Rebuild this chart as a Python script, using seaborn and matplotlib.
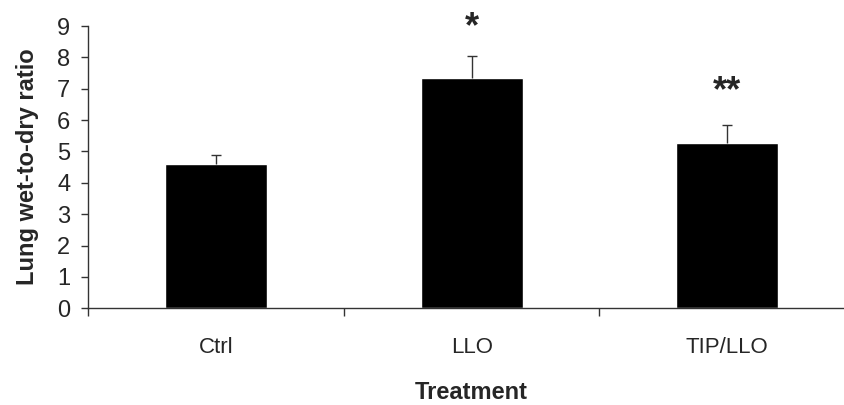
import numpy as np
import pandas as pd
import matplotlib
matplotlib.use('Agg')
import matplotlib.pyplot as plt
import seaborn as sns

# -----------------------

treatments = ['Ctrl', 'LLO', 'TIP/LLO']
ratio_mean = [4.60, 7.35, 5.27]
ratio_err = [0.28, 0.69, 0.58]
marks = ['', '*', '**']
mark_y = [0.0, 8.65, 6.6]

yticks = list(range(0, 10))

# -----------------------

sns.set_style('white')
plt.rcParams['font.family'] = ['Liberation Sans', 'DejaVu Sans']

df = pd.DataFrame({'treatment': treatments, 'ratio': ratio_mean})

fig = plt.figure(figsize=(8.45, 4.05), dpi=100)
ax = fig.add_axes([0.1047, 0.2388, 0.9071, 0.697])

sns.barplot(data=df, x='treatment', y='ratio', color='black', width=0.4,
	errorbar=None, ax=ax, saturation=1)

x = np.arange(len(treatments))
eb = ax.errorbar(x, ratio_mean, yerr=[np.zeros(len(x)), ratio_err], fmt='none',
	ecolor='#333333', elinewidth=1.0, capsize=3.5, capthick=1.0)
# only the upper cap is wanted
eb.lines[1][0].set_visible(False)

for xi, m, my in zip(x, marks, mark_y):
	if m:
		ax.text(xi, my, m, ha='center', va='baseline', fontsize=26,
			fontweight='bold', clip_on=False)

ax.set_xlim(-0.5, 2.5)
ax.set_ylim(0, 9)
ax.set_yticks(yticks)
ax.set_xticks(x)
ax.set_xticks([-0.5, 0.5, 1.5, 2.5], minor=True)

ax.tick_params(axis='x', which='major', length=0, pad=21, labelsize=16)
ax.tick_params(axis='x', which='minor', length=6, direction='out',
	width=1, color='#333333', bottom=True)
ax.tick_params(axis='y', which='major', length=5, direction='out', width=1,
	color='#333333', pad=8, labelsize=17, left=True)

ax.set_xlabel('Treatment', fontsize=17, fontweight='bold', labelpad=16)
ax.set_ylabel('Lung wet-to-dry ratio', fontsize=17, fontweight='bold',
	labelpad=13)

sns.despine(ax=ax, top=True, right=True)
for sp in ['left', 'bottom']:
	ax.spines[sp].set_color('#333333')
	ax.spines[sp].set_linewidth(1)

plt.savefig('out.png', dpi=100)
